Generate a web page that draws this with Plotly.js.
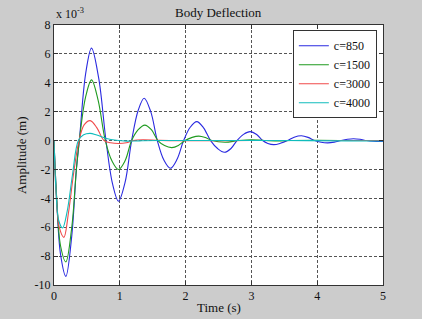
<!DOCTYPE html>
<html>
<head>
<meta charset="utf-8">
<script src="https://cdn.plot.ly/plotly-3.0.1.min.js"></script>
<style>
html,body{margin:0;padding:0;background:#cccccc;}
#chart{width:422px;height:319px;}
</style>
</head>
<body>
<div id="chart"></div>
<script>
// Amplitude values in units of 1e-3 m
const seriesNames = ["c=850", "c=1500", "c=3000", "c=4000"];

const t850 = [0,0.04,0.10,0.18,0.27,0.34,0.385,0.48,0.57,0.68,0.79,0.89,0.98,1.08,1.18,1.28,1.37,1.47,1.57,1.67,1.77,1.87,1.97,2.07,2.17,2.27,2.38,2.49,2.59,2.69,2.78,2.88,2.98,3.08,3.17,3.25,3.34,3.44,3.55,3.65,3.76,3.86,3.96,4.06,4.16,4.26,4.36,4.46,4.55,4.65,4.75,4.85,4.95,5.0];
const y850 = [0,-4.0,-7.9,-9.4,-6.6,-2.0,0,4.6,6.4,4.3,0,-3.0,-4.2,-2.9,0,2.1,2.93,2.0,0,-1.35,-1.92,-1.3,0,0.92,1.31,0.9,0,-0.57,-0.81,-0.55,0,0.43,0.62,0.42,0,-0.2,-0.28,-0.19,0,0.23,0.33,0.22,0,-0.12,-0.16,-0.11,0,0.09,0.13,0.09,0,-0.05,-0.07,-0.06];

const t1500 = [0,0.04,0.10,0.18,0.27,0.34,0.385,0.48,0.57,0.67,0.78,0.88,0.98,1.08,1.18,1.28,1.38,1.48,1.58,1.68,1.79,1.89,1.99,2.10,2.20,2.30,2.40,2.60,2.80,3.00,3.20,3.40,3.60,4.00,4.50,5.0];
const y1500 = [0,-3.9,-7.3,-8.4,-6.0,-2.0,0,3.0,4.2,2.8,0,-1.4,-2.0,-1.4,0,0.75,1.07,0.75,0,-0.35,-0.49,-0.34,0,0.22,0.31,0.21,0,-0.12,0,0.06,0,-0.03,0,0.01,0,0];

const t3000 = [0,0.03,0.08,0.15,0.22,0.30,0.38,0.46,0.55,0.65,0.76,0.86,0.98,1.10,1.20,1.35,1.60,2.00,3.00,4.00,5.0];
const y3000 = [0,-3.5,-6.0,-6.7,-5.0,-2.2,0,1.1,1.38,0.9,0,-0.15,-0.2,-0.15,0,0.06,0.01,-0.01,0,0,0];

const t4000 = [0,0.03,0.07,0.13,0.20,0.28,0.37,0.45,0.55,0.65,0.80,0.95,1.10,1.30,1.60,2.50,3.50,4.50,5.0];
const y4000 = [0,-3.4,-5.5,-6.05,-4.9,-2.4,0,0.4,0.5,0.38,0.14,0.02,-0.04,-0.02,0,0,0,-0.02,-0.03];

const colors = ["#2a2ae0", "#1f9a1f", "#f04a4a", "#10bcbc"];

const yTickVals = [-10,-8,-6,-4,-2,0,2,4,6,8];
const yTickText = ["-10","-8","-6","-4","-2","0","2","4","6","8"];
const xTickVals = [0,1,2,3,4,5];
const xTickText = ["0","1","2","3","4","5"];

const xs = [t850, t1500, t3000, t4000];
const ys = [y850, y1500, y3000, y4000];

const traces = seriesNames.map((n, i) => ({
  x: xs[i], y: ys[i], name: n, type: "scatter", mode: "lines",
  line: {color: colors[i], width: 1.1, shape: "spline", smoothing: 1}
}));

const serif = "'Liberation Serif', 'Times New Roman', serif";

const axisCommon = {
  showline: true, linecolor: "#333", linewidth: 1, mirror: "ticks",
  ticks: "inside", ticklen: 4, tickcolor: "#333",
  showgrid: true, gridcolor: "#555", griddash: "3px,2px", gridwidth: 1,
  zeroline: false, tickfont: {family: serif, size: 12, color: "#111"}
};

const layout = {
  width: 422, height: 319,
  paper_bgcolor: "#cccccc", plot_bgcolor: "#ffffff",
  margin: {l: 54, r: 39, t: 25, b: 34},
  showlegend: true,
  font: {family: serif, color: "#111"},
  title: {text: "Body Deflection", font: {family: serif, size: 13, color: "#111"}, x: 0.517, xanchor: "center", y: 0.962, yanchor: "middle"},
  xaxis: Object.assign({}, axisCommon, {range: [0, 5], tickvals: xTickVals, ticktext: xTickText}),
  yaxis: Object.assign({}, axisCommon, {range: [-10, 8], tickvals: yTickVals, ticktext: yTickText}),
  legend: {x: 0.726, xanchor: "left", y: 0.98, yanchor: "top", bgcolor: "#ffffff", bordercolor: "#333", borderwidth: 1,
           font: {family: serif, size: 12, color: "#111"}},
  annotations: [
    {text: "Time (s)", xref: "paper", yref: "paper", x: 0.5, y: -0.085, xanchor: "center", yanchor: "middle", showarrow: false, font: {family: serif, size: 13, color: "#111"}},
    {text: "Amplitude (m)", xref: "paper", yref: "paper", x: -0.1, y: 0.5, xanchor: "center", yanchor: "middle", textangle: -90, showarrow: false, font: {family: serif, size: 13, color: "#111"}},
    {text: "x 10<sup>-3</sup>", xref: "paper", yref: "paper", x: 0.0, y: 1.0, xanchor: "left", yanchor: "bottom", yshift: 2, showarrow: false, font: {family: serif, size: 12, color: "#111"}}
  ]
};

Plotly.newPlot("chart", traces, layout, {displayModeBar: false, staticPlot: true});
</script>
</body>
</html>
